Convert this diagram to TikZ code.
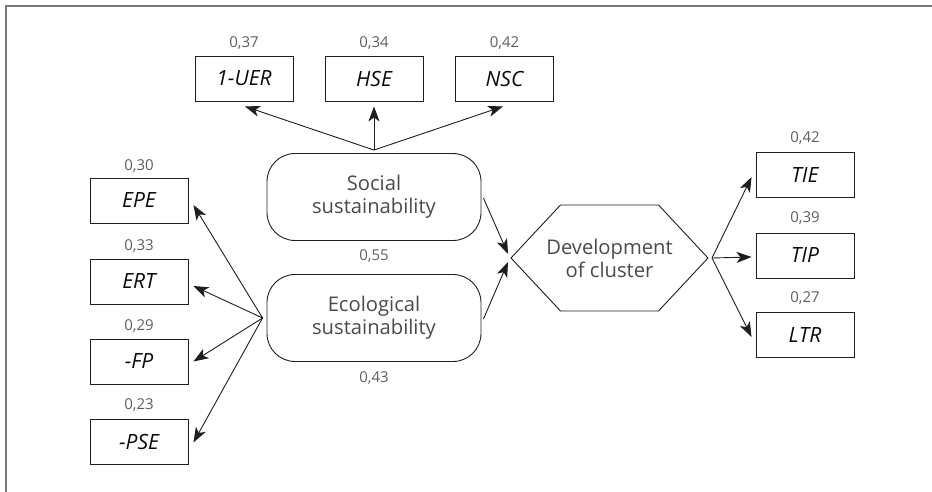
\documentclass[tikz,border=0pt]{standalone}
\usepackage{fontspec}
\setmainfont{Open Sans}
\usetikzlibrary{arrows.meta}
\definecolor{frm}{HTML}{7A7A7A}
\definecolor{lne}{HTML}{1E1E1E}
\definecolor{txt}{HTML}{4A4A4A}
\definecolor{num}{HTML}{5E5E5E}
\definecolor{lbl}{HTML}{0A0A0A}
\tikzset{
  ind/.style={draw=lne, line width=0.9pt, minimum width=98pt, minimum height=45pt, inner sep=0pt,
    text=lbl, font=\fontsize{21}{24}\selectfont\itshape},
  lat/.style={draw=lne, line width=0.9pt, rounded corners=28pt, minimum width=214pt, minimum height=87pt,
    inner sep=0pt, align=center, text=txt, font=\fontsize{20.2}{23}\selectfont},
  hextext/.style={inner sep=0pt, align=center, text=txt, font=\fontsize{20.2}{23}\selectfont},
  val/.style={inner sep=0pt, text=num, font=\fontsize{15}{18}\selectfont},
  arr/.style={draw=lne, line width=0.9pt, -{Stealth[length=15pt,width=11pt,inset=4pt]}},
  hexline/.style={draw=lne, line width=0.9pt}
}
\begin{document}
\begin{tikzpicture}[x=1pt,y=-1pt]
\useasboundingbox (0,0) rectangle (932,492);
% frame
\draw[frm, line width=1.2pt] (6,492) -- (6,6) -- (932,6);

% top indicators
\node[ind] (uer) at (244,78.5) {1-UER};
\node[ind] (hse) at (374,78.5) {HSE};
\node[ind] (nsc) at (504.5,78.5) {NSC};
\node[val] (vuer) at (244,43) {0,37};
\node[val] (vhse) at (374,43) {0,34};
\node[val] (vnsc) at (504.5,43) {0,42};

% latent variables
\node[lat] (soc) at (374,197) {Social\\sustainability};
\node[lat] (eco) at (374,318) {Ecological\\sustainability};
\node[val] (vsoc) at (374,256) {0,55};
\node[val] (veco) at (374,378) {0,43};

% hexagon
\node[hextext] (hex) at (609.5,258) {Development\\of cluster};
\coordinate (hl) at ([xshift=-98.5pt]hex.center);
\coordinate (hr) at ([xshift=98.5pt]hex.center);
\draw[hexline] (hl) -- ([xshift=-49pt,yshift=53pt]hex.center) -- ([xshift=49pt,yshift=53pt]hex.center)
  -- (hr) -- ([xshift=49pt,yshift=-53pt]hex.center) -- ([xshift=-49pt,yshift=-53pt]hex.center) -- cycle;

% left indicators
\node[ind] (epe) at (139,200.5) {EPE};
\node[ind] (ert) at (139,281.5) {ERT};
\node[ind] (fp)  at (139,361.5) {-FP};
\node[ind] (pse) at (139,441.5) {-PSE};
\node[val] (vepe) at (139,166) {0,30};
\node[val] (vert) at (139,246) {0,33};
\node[val] (vfp)  at (139,326) {0,29};
\node[val] (vpse) at (139,405) {0,23};

% right indicators
\node[ind] (tie) at (805,175) {TIE};
\node[ind] (tip) at (805,255.5) {TIP};
\node[ind] (ltr) at (805,335) {LTR};
\node[val] (vtie) at (805,138) {0,42};
\node[val] (vtip) at (805,218) {0,39};
\node[val] (vltr) at (805,298) {0,27};

% sources
\coordinate (ss) at ([yshift=3pt]soc.north);
\coordinate (es) at ([xshift=-4pt]eco.west);
\coordinate (hs) at ([xshift=4pt]hr);
\coordinate (hsend) at ([yshift=-5pt]hse.south);

% arrows social -> top
\draw[arr] (ss) -- ([xshift=1pt,yshift=-5pt]uer.south);
\draw[arr] (ss) -- (ss |- hsend);
\draw[arr] (ss) -- ([xshift=-1.5pt,yshift=-5pt]nsc.south);

% arrows eco -> left
\draw[arr] (es) -- ([xshift=5pt,yshift=-4.5pt]epe.east);
\draw[arr] (es) -- ([xshift=5pt,yshift=-4.5pt]ert.east);
\draw[arr] (es) -- ([xshift=5pt]fp.east);
\draw[arr] (es) -- ([xshift=5pt,yshift=-1pt]pse.east);

% arrows into hexagon
\draw[arr] ([xshift=2pt,yshift=-1pt]soc.east) -- ([xshift=-3pt,yshift=4pt]hl);
\draw[arr] ([xshift=2pt,yshift=-1pt]eco.east) -- ([xshift=-3pt,yshift=-4pt]hl);

% arrows hexagon -> right
\draw[arr] (hs) -- ([xshift=-4pt,yshift=-2pt]tie.west);
\draw[arr] (hs) -- ([xshift=-4pt,yshift=-1.5pt]tip.west);
\draw[arr] (hs) -- ([xshift=-4pt,yshift=-2pt]ltr.west);
\end{tikzpicture}
\end{document}
